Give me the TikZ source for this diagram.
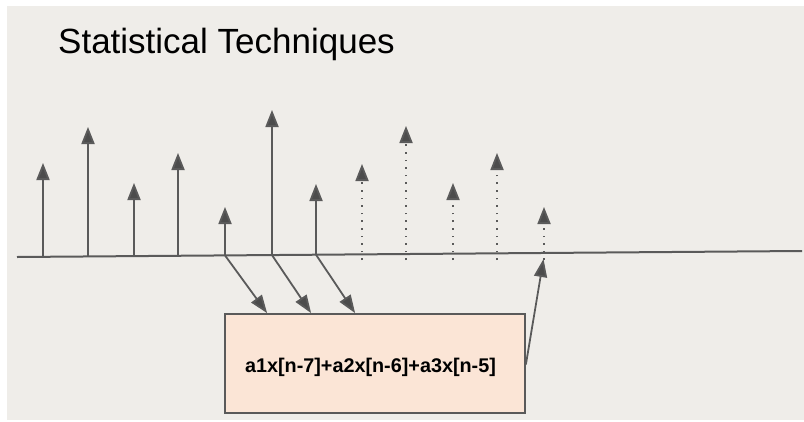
\documentclass[tikz,border=0pt]{standalone}
\usepackage{fontspec}
\setmainfont{Liberation Sans}
\usetikzlibrary{arrows.meta}
\definecolor{bg}{HTML}{EFEDE9}
\definecolor{ln}{HTML}{5A5A5A}
\definecolor{peach}{HTML}{FBE5D6}
\tikzset{
  stem/.style={draw=ln, line width=1.8pt, -{Triangle[length=17pt,width=13pt,fill=ln!85!black]}},
  dstem/.style={stem, dash pattern=on 1.6pt off 6pt},
  feed/.style={draw=ln, line width=1.8pt, -{Triangle[length=18pt,width=13pt,fill=ln!85!black]}},
  axis/.style={draw=ln, line width=2pt},
  boxstyle/.style={draw=ln, line width=1.8pt, fill=peach, minimum width=300pt, minimum height=99pt, inner sep=0pt}
}
\begin{document}
\begin{tikzpicture}[x=1pt,y=-1pt]
\useasboundingbox (0,0) rectangle (804,421);
\fill[bg] (7,6) rectangle (804,420);
\node[anchor=base west, font=\fontsize{35}{40}\selectfont, inner sep=0pt] (title) at (58,53) {Statistical Techniques};
% axis
\coordinate (axL) at (17,257);
\coordinate (axR) at (802,251);
\draw[axis] (axL) -- (axR);
% stem bases and tips
\foreach \i/\x/\yb/\yt in {1/43/256.8/163, 2/88/256.5/127, 3/134/256.1/183, 4/178/255.8/153, 5/225/255.4/207, 6/272/255.1/110, 7/316/254.7/184}{
  \coordinate (b\i) at (\x,\yb);
  \coordinate (t\i) at (\x,\yt);
  \draw[stem] (b\i) -- (t\i);
}
\foreach \i/\x/\yt in {8/362/164, 9/406/126, 10/453/183, 11/497/153, 12/544/207}{
  \coordinate (b\i) at (\x,260);
  \coordinate (t\i) at (\x,\yt);
  \draw[dstem] (b\i) -- (t\i);
}
% box
\node[boxstyle] (box) at (375,363.5) {};
\node[font=\bfseries\fontsize{19.8}{22}\selectfont, anchor=base, inner sep=0pt] (formula) at (370.5,372) {a1x[n-7]+a2x[n-6]+a3x[n-5]};
% feeds
\draw[feed] (b5) -- ([xshift=43pt]box.north west);
\draw[feed] (b6) -- ([xshift=87pt]box.north west);
\draw[feed] (b7) -- ([xshift=131pt]box.north west);
\coordinate (out) at (543.5,259);
\draw[feed] ([yshift=-1pt]box.east) -- (out);
\end{tikzpicture}
\end{document}
